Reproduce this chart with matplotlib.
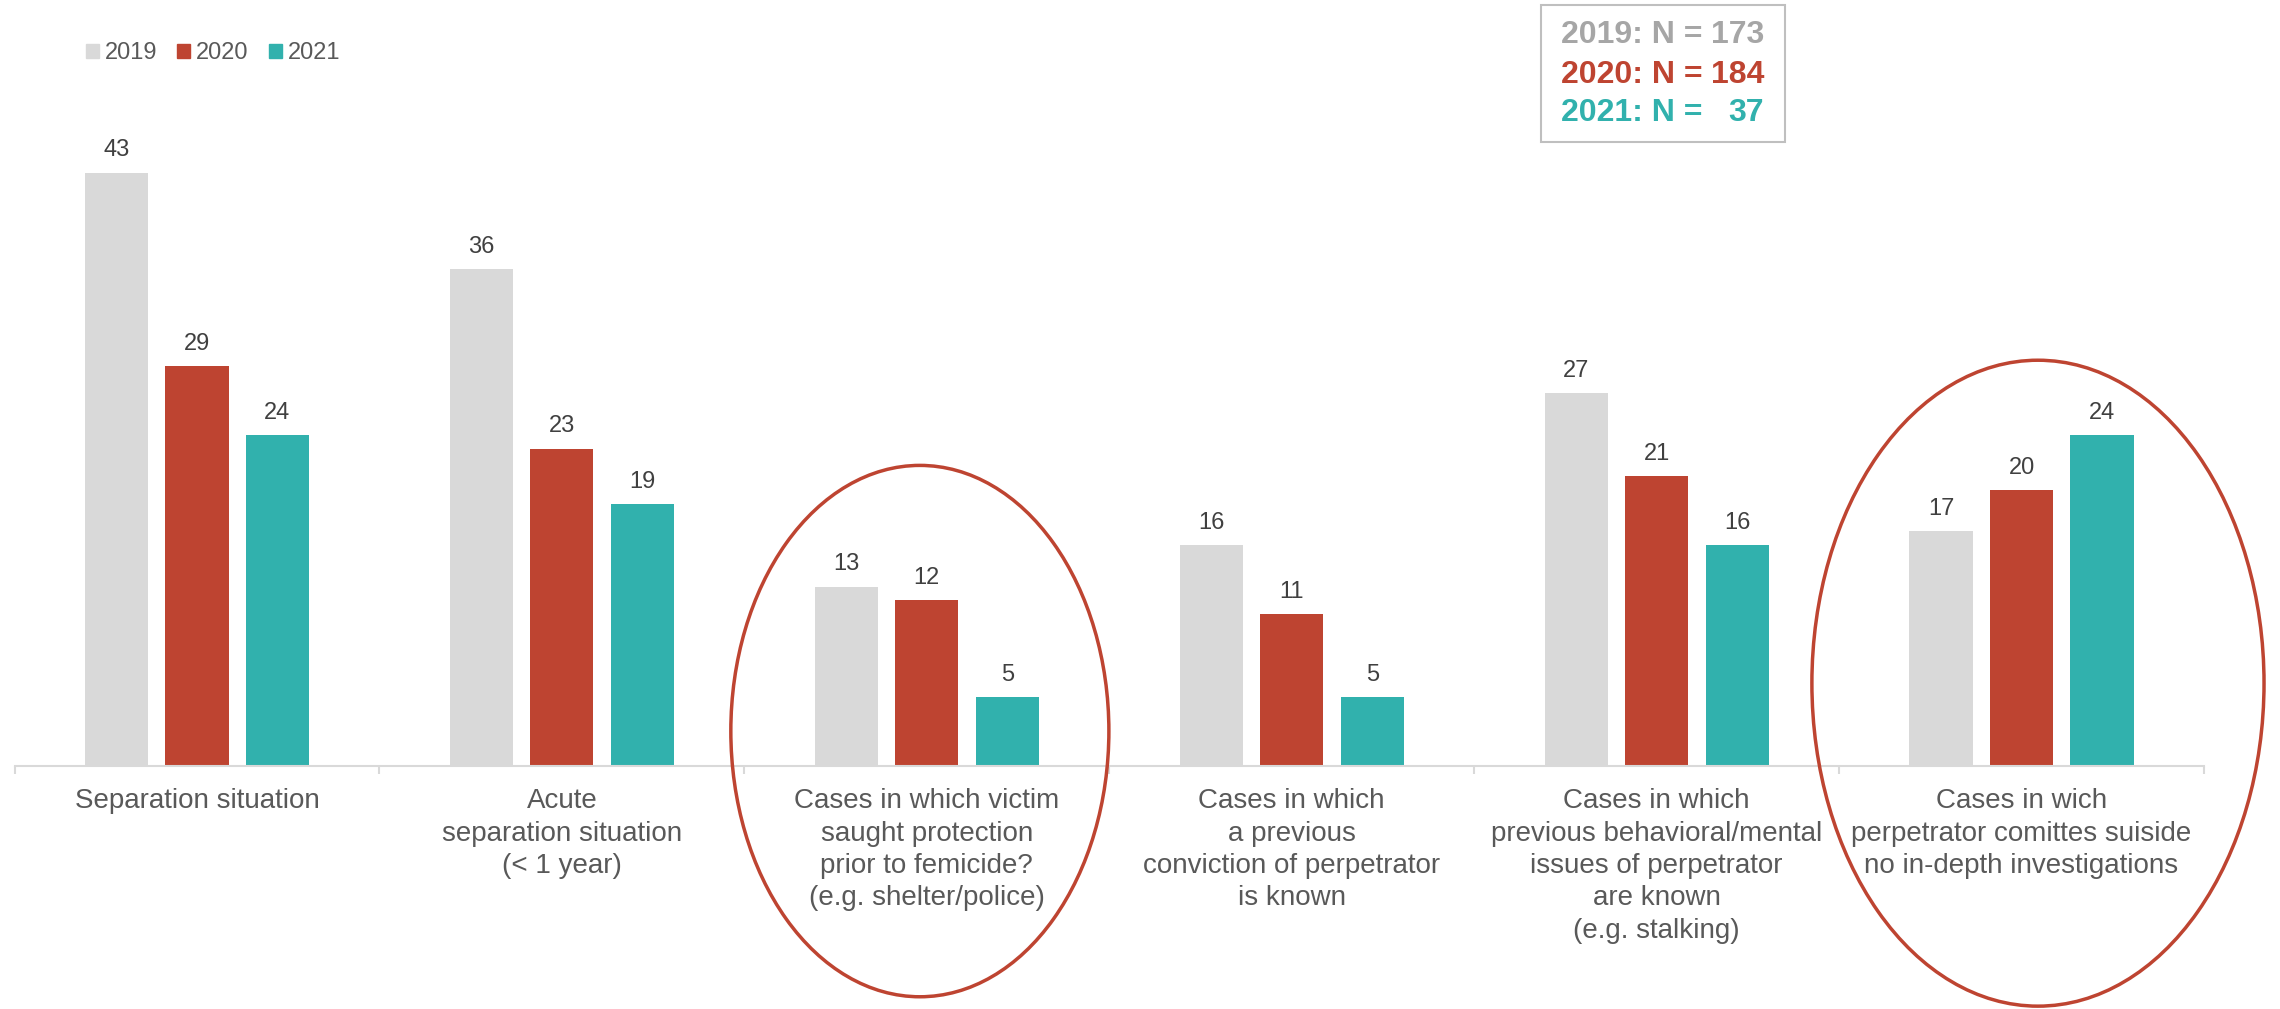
import matplotlib.pyplot as plt
import numpy as np
from matplotlib.patches import Ellipse, Rectangle

plt.rcParams['font.family'] = ['Liberation Sans', 'DejaVu Sans']

categories = ['Separation situation',
              'Acute\nseparation situation\n(< 1 year)',
              'Cases in which victim\nsaught protection\nprior to femicide?\n(e.g. shelter/police)',
              'Cases in which\na previous\nconviction of perpetrator\nis known',
              'Cases in which\nprevious behavioral/mental\nissues of perpetrator\nare known\n(e.g. stalking)',
              'Cases in wich\nperpetrator comittes suiside\nno in-depth investigations']
years = ['2019', '2020', '2021']
v2019 = [43, 36, 13, 16, 27, 17]
v2020 = [29, 23, 12, 11, 21, 20]
v2021 = [24, 19, 5, 5, 16, 24]
n_labels = ['2019: N =', '2020: N =', '2021: N =']
n_values = ['173', '184', '37']

colors = ['#D9D9D9', '#BE4431', '#31B1AD']
n_colors = ['#A6A6A6', '#BE4431', '#31B1AD']
txt = '#595959'

W, H = 2280, 1009
fig = plt.figure(figsize=(W / 100, H / 100), dpi=100)
ax = fig.add_axes([14.5 / W, 1 - 766 / H, (2204 - 14.5) / W, 766 / H])

x = np.arange(len(categories))
step = 0.2206
width = 0.173
for i, vals in enumerate([v2019, v2020, v2021]):
    bars = ax.bar(x + (i - 1) * step, vals, width, color=colors[i], label=years[i], zorder=2)
    for b, v in zip(bars, vals):
        ax.annotate(str(v), (b.get_x() + b.get_width() / 2, v), xytext=(0, 8),
                    textcoords='offset points', ha='center', va='bottom',
                    fontsize=17, color='#404040')

ax.set_xlim(-0.5, len(categories) - 0.5)
ax.set_ylim(0, 55.5)
for s in ['top', 'right', 'left']:
    ax.spines[s].set_visible(False)
ax.spines['bottom'].set_color('#D9D9D9')
ax.spines['bottom'].set_linewidth(1.5)
ax.set_yticks([])
ax.set_xticks(x)
ax.set_xticklabels(categories, fontsize=20, color=txt, linespacing=1.32)
ax.set_xticks(np.arange(-0.5, len(categories)), minor=True)
ax.tick_params(axis='x', which='major', length=0, pad=16)
ax.tick_params(axis='x', which='minor', length=6, width=1.5, color='#D9D9D9')

# highlight ellipses
for cx, cy, ew, eh in [(1.981, 2.53, 1.036, 38.5), (5.045, 6.0, 1.239, 46.8)]:
    ax.add_patch(Ellipse((cx, cy), ew, eh, fill=False, edgecolor='#BE4431',
                         linewidth=2.5, clip_on=False, zorder=3))

# legend
handles = [Rectangle((0, 0), 1, 1, color=c) for c in colors]
fig.legend(handles, years, loc='center left', bbox_to_anchor=(74 / W, 1 - 53 / H),
           ncol=3, frameon=False, fontsize=17, handlelength=0.55, handleheight=0.55,
           handletextpad=0.25, columnspacing=0.85, borderpad=0, labelcolor=txt)

# N box
fig.patches.append(Rectangle((1541 / W, 1 - 142 / H), 244 / W, 137 / H, fill=False,
                             edgecolor='#BFBFBF', linewidth=1.5, transform=fig.transFigure))
for yy, lab, num, c in zip([35, 75, 113], n_labels, n_values, n_colors):
    fig.text(1561 / W, 1 - yy / H, lab, ha='left', va='center', fontsize=23,
             fontweight='bold', color=c)
    fig.text(1764 / W, 1 - yy / H, num, ha='right', va='center', fontsize=23,
             fontweight='bold', color=c)

plt.savefig('out.png', dpi=100)
